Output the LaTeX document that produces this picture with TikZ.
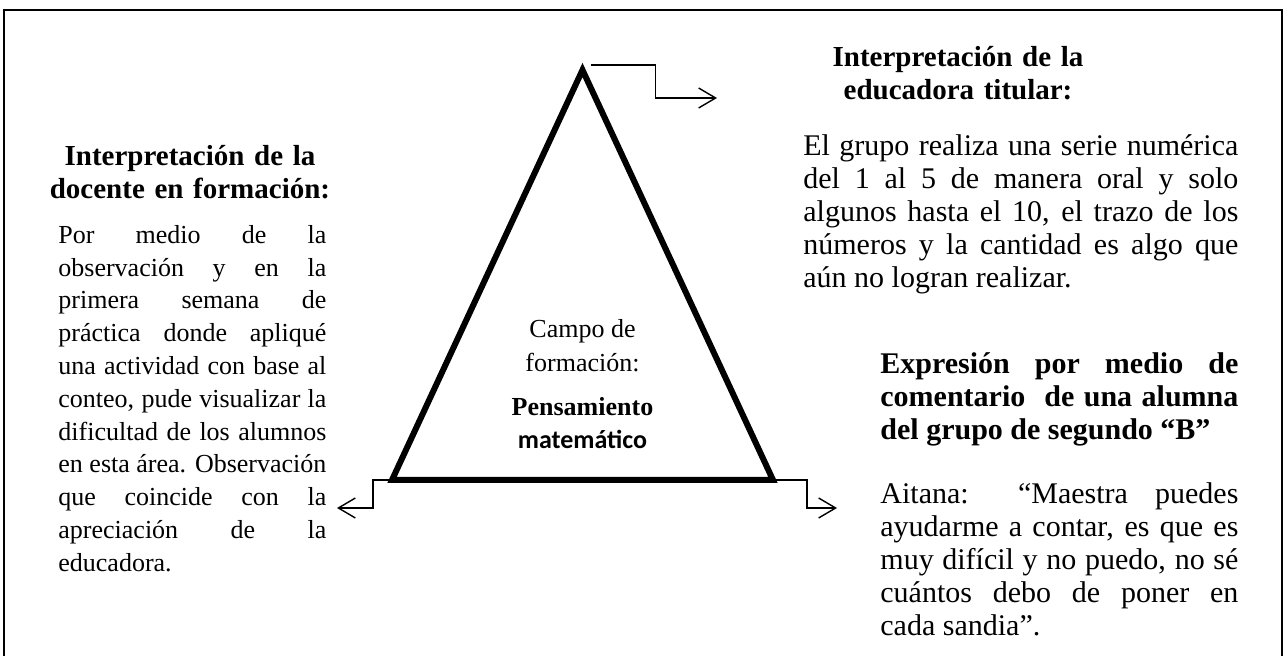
\documentclass[tikz,border=0pt]{standalone}
\usepackage{fontspec}
\setmainfont{Liberation Serif}
\newfontfamily\calibri{Carlito}
\usetikzlibrary{arrows.meta,positioning}
\hyphenpenalty=10000
\tolerance=10000
\hbadness=10000

\begin{document}
\begin{tikzpicture}[x=0.5pt, y=-0.5pt,
   head/.style={font=\bfseries\fontsize{14.5}{16.5}\selectfont, align=center, inner sep=0pt},
   body/.style={font=\fontsize{15}{16.5}\selectfont, align=justify, inner sep=0pt, anchor=north west},
   tri/.style={line width=3pt, line join=miter},
   link/.style={-{Straight Barb[length=8.5pt,width=10pt]}, line width=0.7pt}]
   \useasboundingbox (0,0) rectangle (1285,656);
   \draw[line width=1pt] (4,656) -- (4,10) -- (1282,10) -- (1282,656);
   % triangle
   \coordinate (apex) at (582.5,70);
   \coordinate (bl) at (392,480);
   \coordinate (br) at (773,480);
   \draw[tri] (apex) -- (br) -- (bl) -- cycle;
   \node (campo) at (582.5,313) [anchor=north, align=center, inner sep=0pt,
      font=\fontsize{13}{17}\selectfont] {\strut Campo de\\formación:};
   \node (pens) at (582.5,392) [anchor=north, align=center, inner sep=0pt,
      font=\bfseries\fontsize{13}{16.5}\selectfont] {\strut Pensamiento\\{\calibri matemático}};
   % left side
   \node (hdoc) at (190,142) [head, anchor=north, text width=150pt] {\strut Interpretación de la\\docente en formación:};
   \node (bdoc) at (58,220) [body, text width=134pt, font=\fontsize{13}{16.4}\selectfont]
      {\strut Por medio de la\linebreak observación y en la\linebreak primera semana de\linebreak
       práctica donde apliqué\linebreak una actividad con base al\linebreak conteo, pude visualizar la\linebreak
       dificultad de los alumnos\linebreak en esta área. Observación\linebreak que coincide con la\linebreak
       apreciación de la\linebreak educadora.};
   % right side
   \node (hedu) at (958,43) [head, anchor=north, text width=200pt] {\strut Interpretación de la\\educadora titular:};
   \node (bedu) at (803,132) [body, text width=217.5pt]
      {\strut El grupo realiza una serie numérica\linebreak del 1 al 5 de manera oral y solo\linebreak
       algunos hasta el 10, el trazo de los\linebreak números y la cantidad es algo que\linebreak
       aún no logran realizar.};
   \node (hexp) at (880,350) [body, text width=179pt, font=\bfseries\fontsize{15}{16.5}\selectfont]
      {\strut Expresión por medio de\linebreak comentario\ \ de una alumna\linebreak del grupo de segundo “B”};
   \node (bexp) at (880,480) [body, text width=179pt]
      {\strut Aitana: “Maestra puedes\linebreak ayudarme a contar, es que es\linebreak muy difícil y no puedo, no sé\linebreak
       cuántos debo de poner en\linebreak cada sandia”.};
   % connectors
   \coordinate (tipT) at (717,98);
   \coordinate (tipL) at (337,508);
   \coordinate (tipR) at (837,508);
   \draw[link] ([shift={(8,-5)}]apex) -- ++(65,0) |- (tipT);
   \draw[link] (bl) -- ++(-19,0) |- (tipL);
   \draw[link] (br) -- ++(34,0) |- (tipR);
\end{tikzpicture}
\end{document}
